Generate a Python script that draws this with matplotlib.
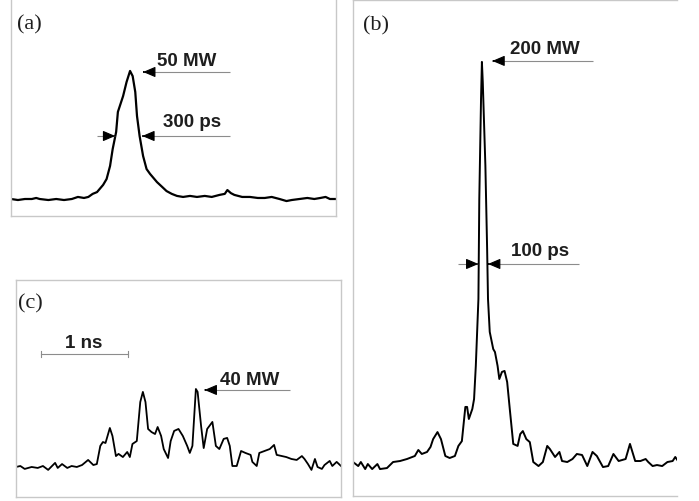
import matplotlib
matplotlib.use("Agg")
import matplotlib.pyplot as plt

# (a) single pulse, time in ns, power in MW
t_a = [0.00, 0.08, 0.16, 0.24, 0.29, 0.33, 0.43, 0.52, 0.61, 0.70, 0.77, 0.84, 0.89,
       0.94, 0.99, 1.02, 1.06, 1.10, 1.14, 1.17, 1.21, 1.23, 1.26, 1.29, 1.33, 1.37,
       1.40, 1.43, 1.45, 1.48, 1.52, 1.56, 1.60, 1.63, 1.68, 1.74, 1.79, 1.85, 1.91,
       1.98, 2.06, 2.14, 2.23, 2.31, 2.40, 2.46, 2.49, 2.53, 2.57, 2.66, 2.75, 2.84,
       2.92, 3.00, 3.09, 3.17, 3.23, 3.32, 3.41, 3.49, 3.56, 3.62, 3.67, 3.74]
p_a = [0.0, -0.4, 0.0, 0.0, 0.4, 0.0, -0.4, 0.0, -0.4, 0.0, 0.8, 0.4, 0.8,
       2.0, 2.7, 3.9, 5.5, 7.8, 12.9, 19.5, 26.2, 34.0, 37.1, 40.2, 45.7, 50.0,
       48.0, 41.8, 32.4, 24.6, 16.8, 11.7, 9.8, 8.6, 6.6, 4.7, 3.1, 2.0, 1.2,
       0.8, 1.2, 0.8, 1.2, 0.8, 1.6, 2.0, 3.5, 2.3, 1.6, 0.8, 0.8, 0.4,
       0.4, 0.8, 0.0, -0.8, -0.4, 0.0, 0.4, 0.0, 0.4, 0.8, 0.0, 0.0]

# (b) compressed pulse
t_b = [0.00, 0.06, 0.09, 0.14, 0.17, 0.22, 0.28, 0.31, 0.39, 0.46, 0.54, 0.62, 0.68,
       0.71, 0.75, 0.79, 0.85, 0.89, 0.92, 0.97, 1.01, 1.06, 1.11, 1.17, 1.21, 1.25,
       1.29, 1.31, 1.33, 1.37, 1.39, 1.41, 1.44, 1.45, 1.47, 1.48, 1.49, 1.52, 1.54,
       1.55, 1.57, 1.61, 1.63, 1.66, 1.68, 1.71, 1.74, 1.77, 1.80, 1.84, 1.89, 1.92,
       1.95, 1.99, 2.03, 2.07, 2.13, 2.18, 2.23, 2.26, 2.32, 2.37, 2.40, 2.46, 2.52,
       2.57, 2.63, 2.69, 2.75, 2.80, 2.87, 2.93, 2.99, 3.05, 3.13, 3.18, 3.24, 3.30,
       3.36, 3.39, 3.44, 3.49, 3.55, 3.61, 3.67, 3.70, 3.74]
p_b = [1.0, -1.0, 1.0, -2.5, 0.0, -2.5, 0.0, -2.5, -2.0, 1.0, 1.5, 2.5, 3.5,
       4.0, 7.0, 5.0, 6.0, 8.5, 12.4, 15.9, 12.4, 4.0, 3.0, 4.0, 9.0, 11.4,
       28.4, 28.4, 22.4, 27.4, 32.3, 48.8, 82.1, 131.8, 181.6, 200.0, 190.0, 148.3, 107.0,
       82.1, 65.7, 57.2, 55.7, 48.8, 42.3, 45.8, 46.3, 40.8, 27.4, 10.0, 9.0, 14.9,
       16.4, 12.4, 10.9, 1.0, -1.0, 1.0, 9.0, 7.5, 3.5, 6.0, 1.5, 1.0, 2.5,
       5.0, 4.5, -1.0, 6.0, 4.0, -1.5, -1.0, 5.0, 1.5, 2.5, 10.0, 1.5, 1.5,
       2.5, 1.0, -1.0, -0.5, -1.0, 1.0, 1.5, 3.5, 1.0]

# (c) broken-up pulse
t_c = [0.00, 0.05, 0.10, 0.18, 0.25, 0.31, 0.37, 0.45, 0.48, 0.53, 0.59, 0.64, 0.70,
       0.76, 0.83, 0.89, 0.93, 0.97, 1.00, 1.03, 1.08, 1.11, 1.15, 1.18, 1.23, 1.28,
       1.31, 1.34, 1.39, 1.43, 1.46, 1.49, 1.52, 1.56, 1.60, 1.63, 1.67, 1.70, 1.75,
       1.78, 1.82, 1.87, 1.92, 1.97, 2.00, 2.03, 2.07, 2.09, 2.13, 2.16, 2.20, 2.26,
       2.30, 2.34, 2.39, 2.43, 2.46, 2.49, 2.54, 2.59, 2.64, 2.70, 2.72, 2.77, 2.80,
       2.86, 2.92, 2.97, 3.00, 3.06, 3.11, 3.17, 3.23, 3.29, 3.32, 3.36, 3.40, 3.44,
       3.47, 3.52, 3.55, 3.61, 3.64, 3.69, 3.74]
p_c = [0.0, 0.5, -1.0, 0.0, -0.5, 0.5, -1.5, 2.1, -0.5, 1.5, -0.5, 0.5, 0.0,
       1.0, 3.6, 1.0, 1.5, 10.8, 12.8, 12.3, 20.0, 15.9, 5.6, 6.7, 5.1, 7.7,
       5.1, 11.8, 13.3, 33.3, 38.5, 33.3, 19.5, 17.9, 16.9, 20.5, 15.9, 9.2, 4.6,
       13.3, 18.5, 19.5, 15.9, 10.8, 7.2, 10.8, 40.0, 38.5, 21.0, 9.7, 19.5, 23.1,
       10.8, 9.2, 14.4, 14.9, 10.8, 0.5, 0.5, 8.2, 7.2, 6.2, 2.6, 0.5, 7.2,
       8.2, 9.2, 11.3, 6.2, 5.6, 5.1, 4.1, 3.6, 5.6, 4.1, 1.5, -1.5, 4.1,
       0.0, -1.0, 1.0, 3.1, 0.5, 2.6, 0.5]

W, H = 699, 502
fig = plt.figure(figsize=(W / 100, H / 100), dpi=100)

FRAME = "#c8c8c8"
GUIDE = "#8c8c8c"
BOLD = dict(family="Liberation Sans", fontweight="bold", fontsize=13.5, color="#1e1e1e")
LABEL = dict(family="Liberation Serif", fontsize=16, color="#1e1e1e")


def panel(left, top, right, bottom, hide=()):
    """Axes placed by pixel box (left, top, right, bottom)."""
    ax = fig.add_axes([left / W, 1 - bottom / H, (right - left) / W, (bottom - top) / H])
    ax.set_xticks([])
    ax.set_yticks([])
    for name, s in ax.spines.items():
        s.set_color(FRAME)
        s.set_linewidth(1.0)
        s.set_visible(name not in hide)
    return ax


def arrow(ax, y, tail, tip):
    ax.plot([tail, tip], [y, y], color=GUIDE, lw=0.8, solid_capstyle="butt")
    ax.annotate("", xy=(tip, y), xytext=(tip + (tail - tip) * 0.01, y),
                arrowprops=dict(arrowstyle="-|>,head_length=0.75,head_width=0.32",
                                color="k", lw=0.8, shrinkA=0, shrinkB=0))


# (a)
ax = panel(11, 0, 336, 217, hide=("top",))
ax.plot(t_a, p_a, color="k", lw=1.6)
ax.set_xlim(0, 3.74)
ax.set_ylim(-6.64, 78.1)
ax.text(0.018, 0.885, "(a)", transform=ax.transAxes, va="center", **LABEL)
arrow(ax, 49.6, 2.52, 1.52)
ax.text(2.02, 53.9, "50 MW", ha="center", va="center", **BOLD)
arrow(ax, 24.6, 0.99, 1.20)
arrow(ax, 24.6, 2.52, 1.51)
ax.text(2.08, 30.1, "300 ps", ha="center", va="center", **BOLD)

# (b)
ax = panel(353, 1, 677, 497, hide=("right",))
ax.plot(t_b, p_b, color="k", lw=1.4)
ax.set_xlim(0, 3.72)
ax.set_ylim(-15.9, 230.8)
ax.text(0.031, 0.95, "(b)", transform=ax.transAxes, va="center", **LABEL)
arrow(ax, 200.5, 2.76, 1.60)
ax.text(2.20, 206.5, "200 MW", ha="center", va="center", **BOLD)
arrow(ax, 99.5, 1.21, 1.44)
arrow(ax, 99.5, 2.59, 1.55)
ax.text(2.15, 106.0, "100 ps", ha="center", va="center", **BOLD)

# (c)
ax = panel(16, 281, 341, 498)
ax.plot(t_c, p_c, color="k", lw=1.3)
ax.set_xlim(0, 3.74)
ax.set_ylim(-15.4, 95.9)
ax.text(0.006, 0.894, "(c)", transform=ax.transAxes, va="center", **LABEL)
ax.plot([0.29, 1.29], [57.9, 57.9], color=GUIDE, lw=0.8)
ax.plot([0.29, 0.29], [56.4, 59.4], color=GUIDE, lw=0.8)
ax.plot([1.29, 1.29], [56.4, 59.4], color=GUIDE, lw=0.8)
ax.text(0.78, 64.1, "1 ns", ha="center", va="center", **BOLD)
arrow(ax, 39.5, 3.15, 2.17)
ax.text(2.69, 45.1, "40 MW", ha="center", va="center", **BOLD)

fig.savefig("out.png", dpi=100)
